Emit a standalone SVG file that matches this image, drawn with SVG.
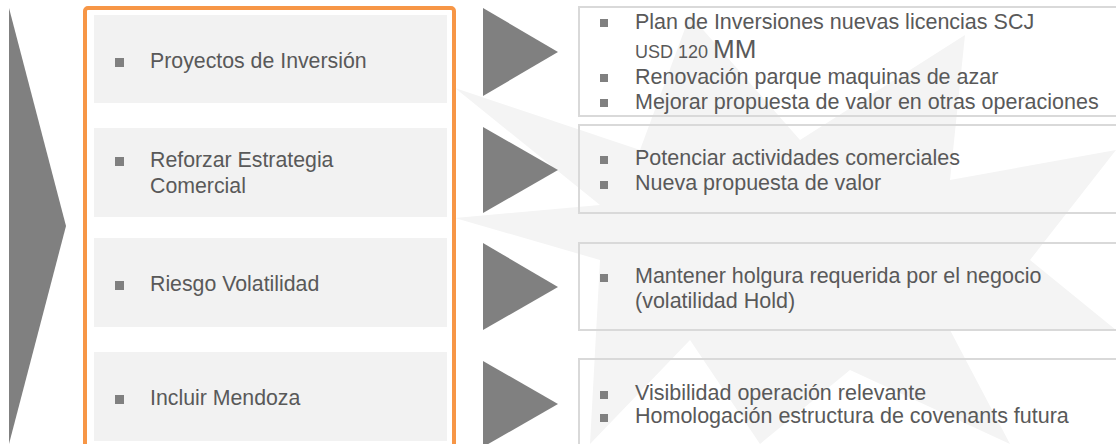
<svg xmlns="http://www.w3.org/2000/svg" width="1116" height="444" viewBox="0 0 1116 444">
<style>
.t{font-family:"Liberation Sans",Arial,sans-serif;font-size:21.3px;fill:#595959}
.tr{font-family:"Liberation Sans",Arial,sans-serif;font-size:21.5px;fill:#595959}
.lb{fill:#f2f2f2}
.rb{fill:none;stroke:#d9d9d9;stroke-width:2}
.tri{fill:#808080}
.bl{fill:#808080}
</style>
<rect width="1116" height="444" fill="#ffffff"/>
<g id="watermark">
<polygon fill="#f4f4f4" points="455,88 640,150 690,15 800,140 965,35 950,180 1116,150 1030,260 1116,330 950,330 1010,444 850,370 760,444 690,340 590,444 600,260 455,218 600,205"/>
</g>
<g id="big-arrow"><polygon class="tri" points="9,8 66,226 9,444"/></g>
<g id="left-column">
<rect x="85" y="8" width="369" height="450" rx="3" fill="none" stroke="#f79646" stroke-width="4"/>
<g id="n1"><rect class="lb" x="94" y="15" width="353" height="88"/><rect class="bl" x="115" y="58" width="9" height="9"/><text class="t" x="150" y="68">Proyectos de Inversión</text></g>
<g id="n2"><rect class="lb" x="94" y="128" width="353" height="89"/><rect class="bl" x="115" y="157" width="9" height="9"/><text class="t" x="150" y="167">Reforzar Estrategia</text><text class="t" x="150" y="193">Comercial</text></g>
<g id="n3"><rect class="lb" x="94" y="238" width="353" height="89"/><rect class="bl" x="115" y="281" width="9" height="9"/><text class="t" x="150" y="291">Riesgo Volatilidad</text></g>
<g id="n4"><rect class="lb" x="94" y="352" width="353" height="89"/><rect class="bl" x="115" y="395" width="9" height="9"/><text class="t" x="150" y="405">Incluir Mendoza</text></g>
</g>
<g id="connectors">
<polygon class="tri" points="483,8 558,52 483,96"/>
<polygon class="tri" points="483,127 558,170 483,213"/>
<polygon class="tri" points="483,243 558,287 483,330"/>
<polygon class="tri" points="483,361 558,404 483,447"/>
</g>
<g id="r1"><rect class="rb" x="579" y="7" width="560" height="109"/>
<rect class="bl" x="600" y="19" width="8" height="8"/><text class="tr" x="635" y="29">Plan de Inversiones nuevas licencias SCJ</text>
<text class="tr" x="635" y="58"><tspan font-size="18">USD 120 </tspan><tspan font-size="26">MM</tspan></text>
<rect class="bl" x="600" y="74" width="8" height="8"/><text class="tr" x="635" y="84">Renovación parque maquinas de azar</text>
<rect class="bl" x="600" y="99" width="8" height="8"/><text class="tr" x="635" y="109">Mejorar propuesta de valor en otras operaciones</text>
</g>
<g id="r2"><rect class="rb" x="579" y="125" width="560" height="88"/>
<rect class="bl" x="600" y="156" width="8" height="8"/><text class="tr" x="635" y="165">Potenciar actividades comerciales</text>
<rect class="bl" x="600" y="181" width="8" height="8"/><text class="tr" x="635" y="190">Nueva propuesta de valor</text>
</g>
<g id="r3"><rect class="rb" x="579" y="243" width="560" height="87"/>
<rect class="bl" x="600" y="274" width="8" height="8"/><text class="tr" x="635" y="283">Mantener holgura requerida por el negocio</text>
<text class="tr" x="635" y="308">(volatilidad Hold)</text>
</g>
<g id="r4"><rect class="rb" x="579" y="359" width="560" height="100"/>
<rect class="bl" x="600" y="391" width="8" height="8"/><text class="tr" x="635" y="400">Visibilidad operación relevante</text>
<rect class="bl" x="600" y="414" width="8" height="8"/><text class="tr" x="635" y="423">Homologación estructura de covenants futura</text>
</g>
</svg>
